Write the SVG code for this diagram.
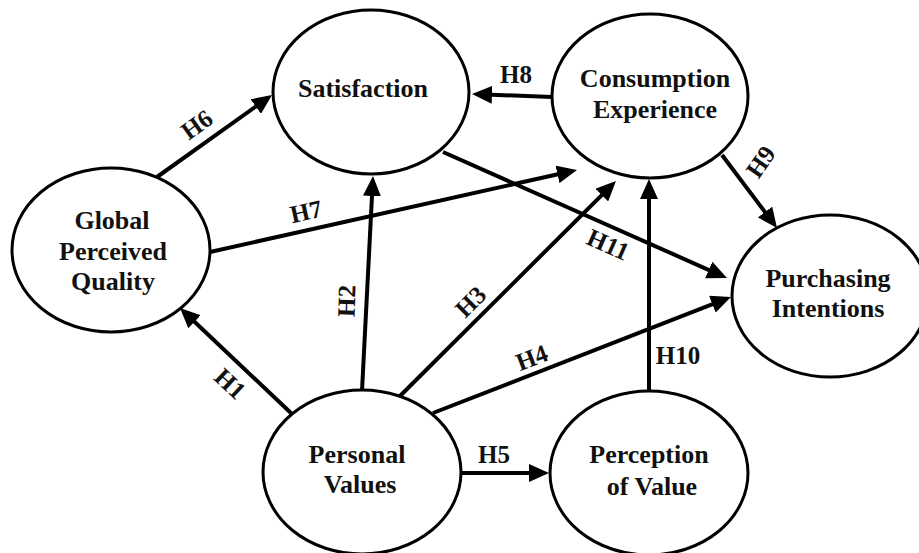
<svg xmlns="http://www.w3.org/2000/svg" width="919" height="553" viewBox="0 0 919 553">
<style>
.node ellipse{fill:#fff;stroke:#000;stroke-width:3}
.nt{font-family:"Liberation Serif","Times New Roman",serif;font-weight:bold;font-size:26px;fill:#111;text-anchor:middle}
.edge{stroke:#000;stroke-width:4;fill:none;marker-end:url(#ah)}
.lbl{font-family:"Liberation Serif","Times New Roman",serif;font-weight:bold;font-size:25px;fill:#111;text-anchor:middle}
</style>
<defs>
<marker id="ah" markerUnits="userSpaceOnUse" markerWidth="20" markerHeight="18" refX="12" refY="9" orient="auto">
<path d="M0,0 L20,9 L0,18 Z" fill="#000"/>
</marker>
</defs>
<rect width="919" height="553" fill="#fff"/>
<g id="connectors">
<g id="e-h6"><line class="edge" x1="157" y1="177" x2="265.5" y2="99.6"/><text class="lbl" transform="translate(197,125) rotate(-35.5)" y="8">H6</text></g>
<g id="e-h7"><line class="edge" x1="210" y1="252" x2="569.2" y2="171.7"/><text class="lbl" transform="translate(306,212) rotate(-12.6)" y="8">H7</text></g>
<g id="e-h8"><line class="edge" x1="552" y1="97" x2="480" y2="94.3"/><text class="lbl" x="516" y="83">H8</text></g>
<g id="e-h9"><line class="edge" x1="722" y1="155" x2="772.2" y2="221.6"/><text class="lbl" transform="translate(761,162) rotate(-55)" y="8">H9</text></g>
<g id="e-h11"><line class="edge" x1="443" y1="152" x2="719.7" y2="274.8"/><text class="lbl" transform="translate(608,245) rotate(24)" y="8">H11</text></g>
<g id="e-h2"><line class="edge" x1="362" y1="391" x2="372.6" y2="184"/><text class="lbl" transform="translate(347,301) rotate(-88)" y="8">H2</text></g>
<g id="e-h3"><line class="edge" x1="400" y1="396" x2="610.3" y2="186.6"/><text class="lbl" transform="translate(471,302) rotate(-45)" y="8">H3</text></g>
<g id="e-h4"><line class="edge" x1="433" y1="413" x2="723.5" y2="299.9"/><text class="lbl" transform="translate(532,358) rotate(-21)" y="8">H4</text></g>
<g id="e-h1"><line class="edge" x1="292" y1="414" x2="185.8" y2="313.5"/><text class="lbl" transform="translate(230,384) rotate(43)" y="8">H1</text></g>
<g id="e-h5"><line class="edge" x1="460" y1="473" x2="541" y2="473"/><text class="lbl" x="494" y="463">H5</text></g>
<g id="e-h10"><line class="edge" x1="649" y1="390" x2="649" y2="187"/><text class="lbl" x="678" y="364">H10</text></g>
</g>
<g id="satisfaction" class="node"><ellipse cx="371" cy="92" rx="98" ry="82"/><text class="nt" x="363" y="97">Satisfaction</text></g>
<g id="consumption-experience" class="node"><ellipse cx="650" cy="96" rx="98" ry="82"/><text class="nt" x="655" y="87">Consumption</text><text class="nt" x="655" y="118">Experience</text></g>
<g id="global-perceived-quality" class="node"><ellipse cx="111" cy="250" rx="99" ry="82"/><text class="nt" x="112" y="229">Global</text><text class="nt" x="113" y="260">Perceived</text><text class="nt" x="113" y="290">Quality</text></g>
<g id="purchasing-intentions" class="node"><ellipse cx="830" cy="296" rx="98" ry="81"/><text class="nt" x="828" y="287">Purchasing</text><text class="nt" x="828" y="317">Intentions</text></g>
<g id="personal-values" class="node"><ellipse cx="362" cy="472" rx="99" ry="82"/><text class="nt" x="357" y="463">Personal</text><text class="nt" x="360" y="493">Values</text></g>
<g id="perception-of-value" class="node"><ellipse cx="649" cy="473" rx="99" ry="82"/><text class="nt" x="649" y="463">Perception</text><text class="nt" x="652" y="495">of Value</text></g>
</svg>
